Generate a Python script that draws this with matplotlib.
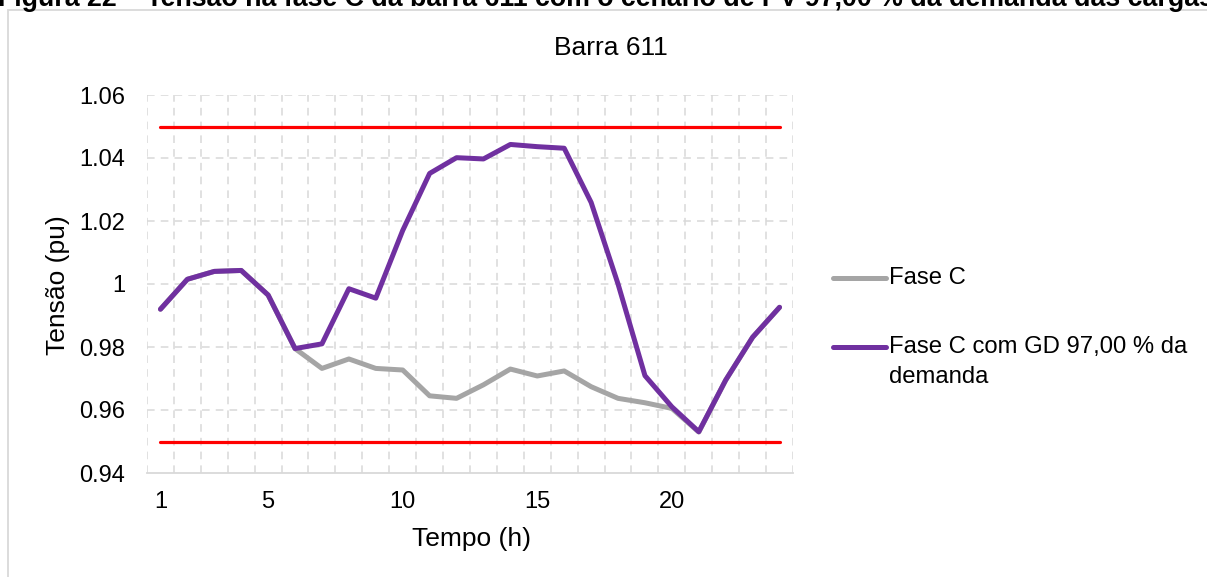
import matplotlib
matplotlib.use("Agg")
import matplotlib.pyplot as plt
from matplotlib.lines import Line2D
from matplotlib.patches import Rectangle

plt.rcParams['font.family'] = ['Liberation Sans', 'DejaVu Sans']

# horas do dia
horas = list(range(1, 25))

# tensão na fase C (pu), caso base
fase_c = [0.992, 1.0015, 1.004, 1.0043, 0.9965, 0.9795, 0.9732, 0.9762,
          0.9732, 0.9727, 0.9645, 0.9637, 0.968, 0.9730, 0.9708, 0.9724,
          0.9674, 0.9637, 0.9623, 0.9605, 0.953, 0.9695, 0.9831, 0.9926]

# tensão na fase C (pu) com geração distribuída
fase_c_gd = [0.992, 1.0015, 1.004, 1.0043, 0.9965, 0.9795, 0.981, 0.9985,
             0.9955, 1.017, 1.0351, 1.0401, 1.0397, 1.0443, 1.0436, 1.0431,
             1.0259, 1.0, 0.9709, 0.961, 0.9531, 0.9695, 0.9831, 0.9926]

lim_sup = 1.05
lim_inf = 0.95

rotulos = ['Fase C', 'Fase C com GD 97,00 % da\ndemanda']
cores = ['#a5a5a5', '#7030a0']

W, H = 1207, 577
fig = plt.figure(figsize=(W / 100, H / 100), dpi=100)
ax = fig.add_axes([147 / W, 1 - 473 / H, (793 - 147) / W, (473 - 95) / H])

# moldura do gráfico
fig.add_artist(Rectangle((7.5 / W, -0.1), 1.2, 1 - 10 / H + 0.1,
                         transform=fig.transFigure, fill=False,
                         edgecolor='#d9d9d9', lw=1.3))

grade = dict(color='#d9d9d9', lw=1.1, ls=(0, (5, 4)), zorder=0)
for y in [0.96, 0.98, 1.0, 1.02, 1.04, 1.06]:
    ax.axhline(y, **grade)
for x in range(25):
    ax.axvline(x + 0.5, **grade)

ax.plot(horas, [lim_sup] * len(horas), color='#ff0000', lw=2.3,
        solid_capstyle='round', zorder=2)
ax.plot(horas, [lim_inf] * len(horas), color='#ff0000', lw=2.3,
        solid_capstyle='round', zorder=2)
ax.plot(horas, fase_c, color=cores[0], lw=3.6, solid_capstyle='round',
        solid_joinstyle='round', zorder=3)
ax.plot(horas, fase_c_gd, color=cores[1], lw=3.6, solid_capstyle='round',
        solid_joinstyle='round', zorder=4)

ax.set_xlim(0.5, 24.5)
ax.set_ylim(0.94, 1.06)
ax.set_xticks([1, 5, 10, 15, 20])
ax.set_yticks([0.94, 0.96, 0.98, 1.0, 1.02, 1.04, 1.06])
ax.set_yticklabels(['0.94', '0.96', '0.98', '1', '1.02', '1.04', '1.06'])
ax.tick_params(length=0, labelsize=17, colors='black')
ax.tick_params(axis='y', pad=15.5)
ax.tick_params(axis='x', pad=13)
for s in ['top', 'right', 'left']:
    ax.spines[s].set_visible(False)
ax.spines['bottom'].set_color('#d9d9d9')
ax.spines['bottom'].set_linewidth(1.3)

fig.text(58 / W, 1 - 285 / H, 'Tensão (pu)', rotation=90, fontsize=19,
         ha='center', va='center')
fig.text(471 / W, 1 - 546 / H, 'Tempo (h)', fontsize=19,
         ha='center', va='baseline')
fig.text(611 / W, 1 - 55 / H, 'Barra 611', fontsize=19,
         ha='center', va='baseline')

# legenda à direita
for i, (rot, cor) in enumerate(zip(rotulos, cores)):
    yl = 1 - (278 + 69 * i) / H
    fig.add_artist(Line2D([833 / W, 886 / W], [yl, yl], color=cor, lw=3.6,
                          solid_capstyle='round', transform=fig.transFigure))
    linhas = rot.split('\n')
    for j, txt in enumerate(linhas):
        fig.text(889 / W, yl - 30 * j / H, txt, fontsize=17.2, va='center')

fig.text(-2 / W, 1 - 5.5 / H,
         'Figura 22 – Tensão na fase C da barra 611 com o cenário de PV '
         '97,00 % da demanda das cargas',
         fontsize=19.3, weight='bold', va='baseline', ha='left')

fig.savefig('out.png', dpi=100)
